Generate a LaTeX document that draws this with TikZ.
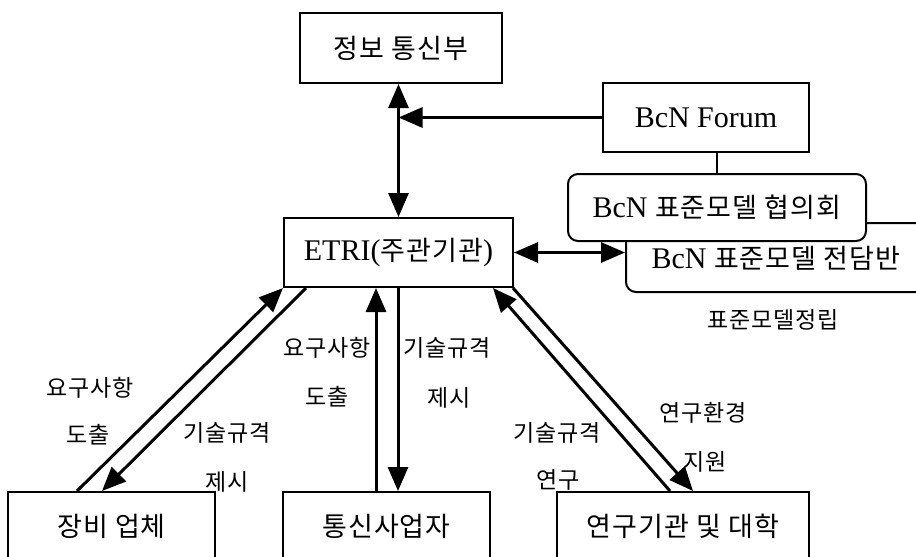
\documentclass[tikz,border=0pt]{standalone}
\usepackage{fontspec}
\setmainfont{Liberation Serif}
\newfontfamily\kr{Noto Sans CJK KR}[LetterSpace=4]
\usetikzlibrary{arrows.meta}
\newcommand\KB[1]{{\kr\fontsize{27}{32}\selectfont #1}}
\newcommand\KL[1]{{\kr\fontsize{23}{28}\selectfont #1}}
\begin{document}
\begin{tikzpicture}[x=1pt,y=-1pt,
  box/.style={draw,line width=2pt,inner sep=0pt,fill=white,font=\fontsize{30}{34}\selectfont},
  rbox/.style={box,rounded corners=10pt},
  lbl/.style={inner sep=0pt},
  arr/.style={line width=3pt,-{Triangle[length=24pt,width=20pt]}},
  darr/.style={line width=3pt,{Triangle[length=24pt,width=20pt]}-{Triangle[length=24pt,width=20pt]}},
  con/.style={line width=2.6pt}]
\useasboundingbox (0,0) rectangle (916,557);
\clip (0,0) rectangle (916,557);
\fill[white] (0,0) rectangle (916,557);
% boxes
\node[box,minimum width=202pt,minimum height=70pt] (jb) at (401,48) {\KB{정보 통신부}};
\node[box,minimum width=206pt,minimum height=69pt] (forum) at (706,117.5) {BcN Forum};
\node[rbox,minimum width=300pt,minimum height=69pt] (jdb) at (776,257.5) {};
\node[rbox,minimum width=298pt,minimum height=67pt] (hyp) at (717,207.5) {BcN \KB{표준모델 협의회}};
\node[lbl,font=\fontsize{30}{34}\selectfont] (jdbt) at (776,258) {BcN \KB{표준모델 전담반}};
\node[box,minimum width=229pt,minimum height=69pt] (etri) at (398.5,252.5) {ETRI(\KB{주관기관})};
\node[box,minimum width=207pt,minimum height=68pt] (jang) at (111.5,526) {\KB{장비 업체}};
\node[box,minimum width=207pt,minimum height=68pt] (tong) at (386.5,526) {\KB{통신사업자}};
\node[box,minimum width=252pt,minimum height=68pt] (yeon) at (683,526) {\KB{연구기관 및 대학}};
% connectors top
\coordinate (j) at (etri.north |- forum.west);
\draw[darr] (etri.north) -- (etri.north |- jb.south);
\draw[arr] (forum.west) -- (j);
\draw[con] (hyp.north) -- (hyp.north |- forum.south);
\draw[darr] (etri.east) -- (etri.east -| jdb.west);
% jang
\draw[arr] ([xshift=70pt]jang.north west) -- (etri.south west);
\draw[arr] ([xshift=23pt]etri.south west) -- ([xshift=95pt]jang.north west);
% tong
\draw[arr] ([xshift=-10.5pt]tong.north) -- ([xshift=-10.5pt]tong.north |- etri.south);
\draw[arr] ([xshift=11.5pt]tong.north |- etri.south) -- ([xshift=11.5pt]tong.north);
% yeon
\draw[arr] ([xshift=-13pt]yeon.north) -- ([xshift=-21pt]etri.south east);
\draw[arr] ([xshift=-1pt]etri.south east) -- ([xshift=10pt]yeon.north);
% labels
\node[lbl] (l1) at (90,388) {\KL{요구사항}};
\node[lbl] (l2) at (88,435) {\KL{도출}};
\node[lbl] (l3) at (227,433) {\KL{기술규격}};
\node[lbl] (l4) at (227,482) {\KL{제시}};
\node[lbl] (l5) at (327,348) {\KL{요구사항}};
\node[lbl] (l6) at (327,397) {\KL{도출}};
\node[lbl] (l7) at (447,348) {\KL{기술규격}};
\node[lbl] (l8) at (449,398) {\KL{제시}};
\node[lbl] (l9) at (557,433) {\KL{기술규격}};
\node[lbl] (l10) at (558,480) {\KL{연구}};
\node[lbl] (l11) at (703,413) {\KL{연구환경}};
\node[lbl] (l12) at (705,462) {\KL{지원}};
\node[lbl] (l13) at (773,320) {\KL{표준모델정립}};
\end{tikzpicture}
\end{document}
